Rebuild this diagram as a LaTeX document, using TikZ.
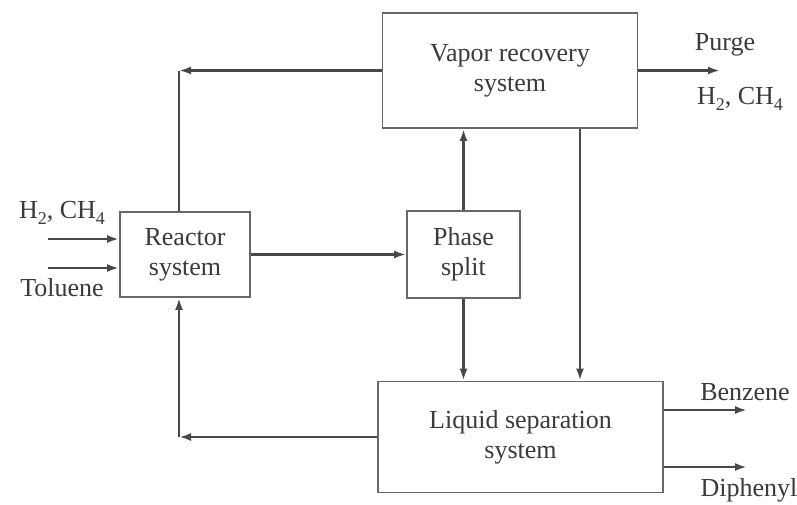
\documentclass[tikz,border=0pt]{standalone}
\usepackage{fontspec}
\setmainfont{Liberation Serif}
\usetikzlibrary{positioning, arrows.meta, calc}
\definecolor{Line}{HTML}{484848}
\definecolor{Frame}{HTML}{686868}
\definecolor{Ink}{HTML}{3A3A3A}
\newcommand{\chemsub}[1]{\raisebox{-0.45ex}{\fontsize{9}{9}\selectfont #1}}

\begin{document}
\begin{tikzpicture}[x=0.5pt, y=-0.5pt,
    unit/.style={draw=Frame, line width=0.9pt, align=center, inner sep=0pt, text=Ink, font=\fontsize{13}{15}\selectfont},
    stream/.style={draw=Line, line width=1.2pt},
    feed/.style={stream, -{Latex[length=6pt, width=4pt]}},
    tag/.style={inner sep=0pt, text=Ink, font=\fontsize{13}{15}\selectfont}
]
\useasboundingbox (0,0) rectangle (797,504);

% Vapor recovery
\node[unit, minimum width=127.5pt, minimum height=57.5pt] (vapor) at (510,70.5) {Vapor recovery\\system};

% Reactor
\node[unit, minimum width=65pt, minimum height=42.5pt] (reactor) at (185,254.5) {Reactor\\system};

% Phase split
\node[unit, minimum width=56.5pt, minimum height=43.5pt] (phase) at (463.5,254.5) {Phase\\split};

% Liquid separation
\node[unit, minimum width=142.5pt, minimum height=55.5pt] (liquid) at (520.5,437) {Liquid separation\\system};

% Recycle gas
\coordinate (gasturn) at (179,70.5);
\draw[feed] (vapor.west) -- (gasturn);
\draw[stream] (gasturn) -- (gasturn |- reactor.north);

% Reactor to phase split
\draw[feed] (reactor.east) -- (phase.west);
\draw[feed] (phase.north) -- (phase.north |- vapor.south);
\draw[feed] (phase.south) -- (phase.south |- liquid.north);
\draw[feed] ([xshift=35pt]vapor.south) -- ([xshift=35pt]vapor.south |- liquid.north);

% Recycle toluene
\coordinate (liqturn) at (179,437);
\draw[feed] (liquid.west) -- (liqturn);
\draw[feed] (liqturn) -- (liqturn |- reactor.south);

% Feeds
\coordinate (gasin) at (48,239);
\coordinate (tolin) at (48,268);
\draw[feed] (gasin) -- (gasin -| reactor.west);
\draw[feed] (tolin) -- (tolin -| reactor.west);
\node[tag] (gaslab) at (62,213) {H\chemsub{2}, CH\chemsub{4}};
\node[tag] (tollab) at (62,288) {Toluene};

% Products
\coordinate (purgeout) at (720,70.5);
\draw[feed] (vapor.east) -- (purgeout);
\node[tag] (purgelab) at (725,45) {Purge};
\node[tag] (purgegas) at (740,99) {H\chemsub{2}, CH\chemsub{4}};

\coordinate (benzout) at (747,410);
\coordinate (diphout) at (747,467);
\draw[feed] (benzout -| liquid.east) -- (benzout);
\draw[feed] (diphout -| liquid.east) -- (diphout);
\node[tag] (benzlab) at (745,392) {Benzene};
\node[tag] (diphlab) at (749,490) {Diphenyl};

\end{tikzpicture}
\end{document}
